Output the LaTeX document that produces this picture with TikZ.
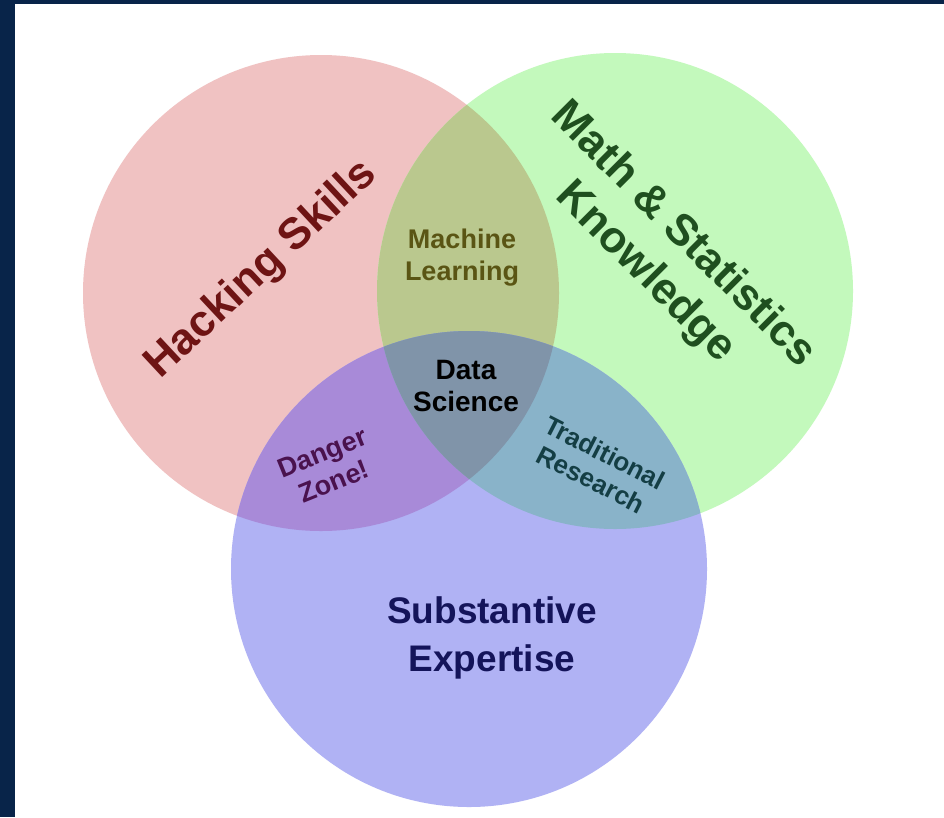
\documentclass[tikz,border=0pt]{standalone}
\usepackage{fontspec}
\setmainfont{Liberation Sans}
\definecolor{navybg}{HTML}{082449}
\definecolor{hackfill}{HTML}{F0C2C2}
\definecolor{mathfill}{HTML}{C3F9BC}
\definecolor{substfill}{HTML}{B0B2F4}
\definecolor{mlfill}{HTML}{BAC88E}
\definecolor{dangerfill}{HTML}{A88AD8}
\definecolor{tradfill}{HTML}{89B3C9}
\definecolor{dsfill}{HTML}{8094A9}
\definecolor{hacktext}{HTML}{6E1414}
\definecolor{mathtext}{HTML}{1F4F1F}
\definecolor{mltext}{HTML}{5A5514}
\definecolor{dangertext}{HTML}{4A124E}
\definecolor{tradtext}{HTML}{143E44}
\definecolor{substtext}{HTML}{14145A}
\begin{document}
\begin{tikzpicture}[x=1pt,y=-1pt,
    lbl/.style args={#1/#2}{font=\bfseries\fontsize{#1}{#2}\selectfont,
      align=center, inner sep=0pt}]
  \useasboundingbox (0,0) rectangle (944,817);
  % backdrop
  \fill[navybg] (0,0) rectangle (944,817);
  \fill[white] (15,4) rectangle (944,817);
  % the three sets
  \def\rad{238pt}
  \coordinate (hack) at (321,293);
  \coordinate (math) at (615,291);
  \coordinate (subst) at (469,569);
  \fill[hackfill] (hack) circle[radius=\rad];
  \fill[mathfill] (math) circle[radius=\rad];
  \fill[substfill] (subst) circle[radius=\rad];
  % overlaps
  \begin{scope}
    \clip (hack) circle[radius=\rad];
    \fill[mlfill] (math) circle[radius=\rad];
    \fill[dangerfill] (subst) circle[radius=\rad];
  \end{scope}
  \begin{scope}
    \clip (math) circle[radius=\rad];
    \fill[tradfill] (subst) circle[radius=\rad];
  \end{scope}
  \begin{scope}
    \clip (hack) circle[radius=\rad];
    \clip (math) circle[radius=\rad];
    \fill[dsfill] (subst) circle[radius=\rad];
  \end{scope}
  % labels
  \node[lbl=44/50, text=hacktext, rotate=43] (hacklbl) at (262,270) {Hacking Skills};
  \node[lbl=44/53, text=mathtext, rotate=-45] (mathlbl) at (664,254) {Math \& Statistics\\Knowledge};
  \node[lbl=27/32, text=mltext] (mllbl) at (462,258) {Machine\\Learning};
  \node[lbl=28/32, text=black] (dslbl) at (466,386) {Data\\Science};
  \node[lbl=27/31, text=dangertext, rotate=22] (dangerlbl) at (328,467) {Danger\\Zone!};
  \node[lbl=26/30, text=tradtext, rotate=-27] (tradlbl) at (598,466) {Traditional\\Research};
  \node[lbl=37/48, text=substtext] (substlbl) at (492,638) {Substantive\\Expertise};
\end{tikzpicture}
\end{document}
